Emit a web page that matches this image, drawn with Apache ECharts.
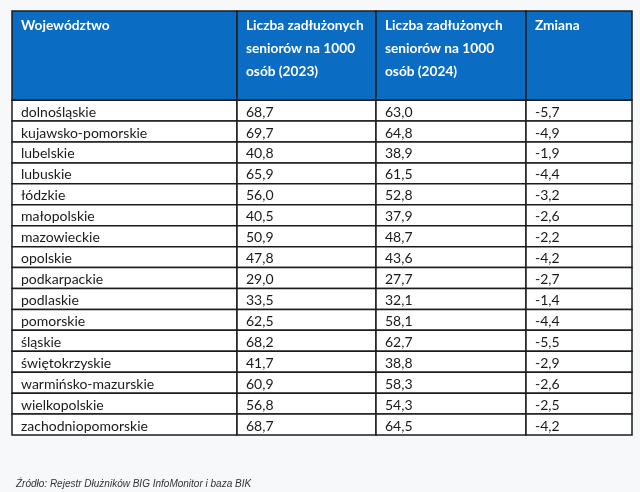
<!DOCTYPE html>
<html><head><meta charset="utf-8">
<script src="https://cdn.jsdelivr.net/npm/echarts@6/dist/echarts.min.js"></script>
<style>html,body{margin:0;padding:0;background:#f7f8fa;}#c{width:640px;height:492px;}</style>
</head><body><div id="c"></div>
<script>
const headers = ['Województwo', 'Liczba zadłużonych\nseniorów na 1000\nosób (2023)', 'Liczba zadłużonych\nseniorów na 1000\nosób (2024)', 'Zmiana'];
const regions = ['dolnośląskie','kujawsko-pomorskie','lubelskie','lubuskie','łódzkie','małopolskie','mazowieckie','opolskie','podkarpackie','podlaskie','pomorskie','śląskie','świętokrzyskie','warmińsko-mazurskie','wielkopolskie','zachodniopomorskie'];
const v2023 = [68.7, 69.7, 40.8, 65.9, 56.0, 40.5, 50.9, 47.8, 29.0, 33.5, 62.5, 68.2, 41.7, 60.9, 56.8, 68.7];
const v2024 = [63.0, 64.8, 38.9, 61.5, 52.8, 37.9, 48.7, 43.6, 27.7, 32.1, 58.1, 62.7, 38.8, 58.3, 54.3, 64.5];
const change = [-5.7, -4.9, -1.9, -4.4, -3.2, -2.6, -2.2, -4.2, -2.7, -1.4, -4.4, -5.5, -2.9, -2.6, -2.5, -4.2];
const source = 'Źródło: Rejestr Dłużników BIG InfoMonitor i baza BIK';

// layout (axis units)
const colEdges = [0, 225, 364, 514, 620];
const headerUnits = 4.26;

const fmt = v => v.toFixed(1).replace('.', ',');
const data = [];
headers.forEach((h, c) => data.push([c, -1, h]));
regions.forEach((r, i) => {
  const row = [r, fmt(v2023[i]), fmt(v2024[i]), fmt(change[i])];
  row.forEach((t, c) => data.push([c, i, t]));
});
const FONT = 'Lato, "Open Sans", sans-serif';

const chart = echarts.init(document.getElementById('c'), null, {renderer: 'canvas'});
chart.setOption({
  backgroundColor: '#f7f8fa',
  animation: false,
  title: {
    text: source, left: 11, top: 474,
    textStyle: {fontFamily: '"Liberation Sans", Arial, sans-serif', fontStyle: 'italic', fontWeight: 'normal', fontSize: 10, color: '#333'}
  },
  grid: {left: 12, right: 8, top: 11, bottom: 57},
  xAxis: {type: 'value', min: 0, max: colEdges[colEdges.length - 1], show: false},
  yAxis: {type: 'value', min: 0, max: headerUnits + regions.length, inverse: true, show: false},
  series: [{
    type: 'custom',
    data: data,
    encode: {x: 0, y: 1},
    renderItem: function (params, api) {
      const c = api.value(0), r = api.value(1);
      const item = data[params.dataIndex];
      const isHead = r < 0;
      const y0 = isHead ? 0 : headerUnits + r;
      const y1 = isHead ? headerUnits : headerUnits + r + 1;
      const p0 = api.coord([colEdges[c], y0]);
      const p1 = api.coord([colEdges[c + 1], y1]);
      const x = p0[0], y = p0[1], w = p1[0] - p0[0], h = p1[1] - p0[1];
      return {
        type: 'group',
        children: [
          {type: 'rect', shape: {x: x, y: y, width: w, height: h},
           style: {fill: isHead ? '#0a6cc3' : '#ffffff', stroke: '#1c1c1c', lineWidth: 1.5}},
          {type: 'text',
           style: isHead ? {
             x: x + 9, y: y + 3, text: item[2], fill: '#ffffff',
             fontFamily: FONT, fontWeight: 'bold', fontSize: 13.7, lineHeight: 23,
             align: 'left', verticalAlign: 'top'
           } : {
             x: x + 9, y: y + h / 2 + 1.5, text: item[2], fill: '#1a1a1a',
             fontFamily: FONT, fontSize: 14, 
             align: 'left', verticalAlign: 'middle'
           }}
        ]
      };
    }
  }]
});
</script></body></html>
